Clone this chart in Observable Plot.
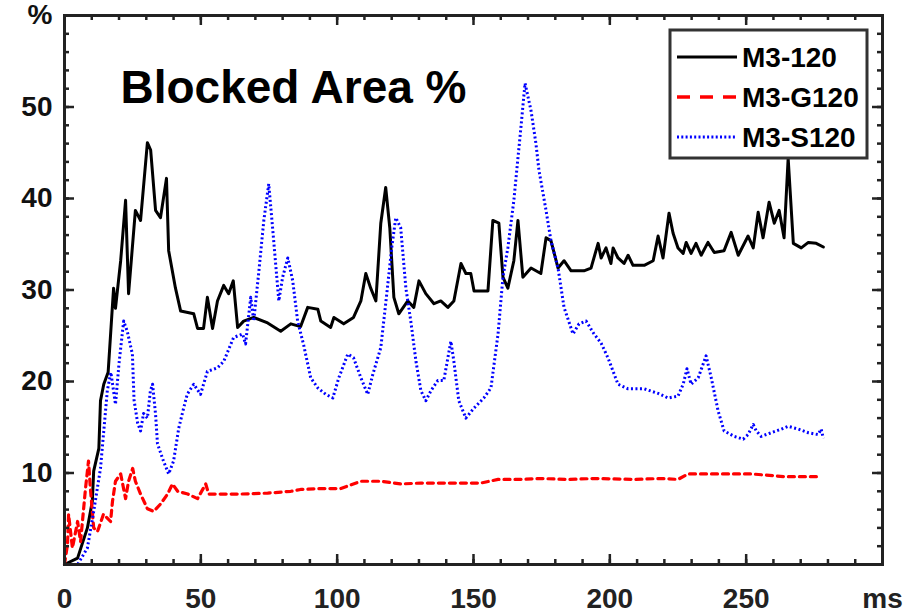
<!DOCTYPE html>
<html><head><meta charset="utf-8">
<script src="https://cdn.jsdelivr.net/npm/d3@7"></script>
<script src="https://cdn.jsdelivr.net/npm/@observablehq/plot@0.6"></script>
<style>body{margin:0;background:#fff;} svg{display:block}</style>
</head><body><div id="chart"></div>
<script>
const seriesNames = ["M3-120", "M3-G120", "M3-S120"];
const title = "Blocked Area %";

const m3_120_t = [0,4.8,8.4,10.2,10.7,12.6,13.2,14.4,16,18,18.7,20.6,22.4,23.5,26,27.9,30.4,31.6,33.4,35.2,37.4,38.2,40.7,42.6,47.4,48.8,51,52.4,54.3,56.1,58.4,60.2,61.9,63.5,65.7,69.4,74.5,79.3,83,86.6,89.2,92.9,94,97.6,98.8,102.4,106,108.7,110.5,112.3,114.2,116,117.8,119.3,120.8,122.6,125.9,128.1,130,132.5,135.5,138,140.6,142.8,145.4,147.2,149,150.2,155.3,157.1,159.3,160.8,162.6,164.8,166.3,168.1,171.1,174.7,176.6,178.4,181,183.2,185.8,190.5,193.1,195.7,196.8,198.6,200.4,201.2,203,205.2,206.7,208.5,212.6,215.9,217.7,219.5,221.7,223.2,225,226.9,228,229.8,231.6,233.5,236,238.3,241.9,244.5,247.1,250.7,252.6,254.4,256.2,258.4,260.3,262.1,263.9,265.4,267.3,270.2,272.8,275.7,278.3];
const m3_120_v = [0,0.7,4,6.9,10.2,12.7,17.9,19.7,21,30.2,28,33.2,39.8,29.6,38.7,37.6,46.1,45.3,38.7,37.9,42.2,34.3,30.2,27.7,27.4,25.8,25.8,29.2,25.8,28.8,30.5,29.6,31,25.9,26.6,27,26.4,25.5,26.3,26,28.1,27.9,26.6,25.9,27,26.3,27,28.8,31.8,30.2,28.8,37.3,41.2,36.8,29.2,27.4,28.8,28.1,31,29.6,28.5,28.8,28.1,28.8,32.9,31.8,31.8,29.9,29.9,37.6,37.3,31.4,30.2,33.2,37.6,31.4,32.4,31.8,35.7,35.4,32.4,33.2,32.1,32.1,32.4,35.1,33.5,34.6,32.9,34.6,33.5,32.9,33.8,32.7,32.7,33.2,35.9,33.5,38.4,36.2,34.6,34,35.2,34,35.1,33.8,35.2,34.1,34.3,36.3,33.8,35.9,34.6,38.5,35.7,39.6,37.3,38.7,35.7,44.4,35.1,34.6,35.2,35.1,34.7];

const m3_g120_t = [0,1.1,1.5,2.9,4.8,5.9,7.7,8.8,9.5,10.7,12.1,14.3,16.9,17.6,18.7,20.6,22.4,23.5,25,26,27.9,30.4,32.7,35.2,37.8,39.6,41.5,45.2,48.8,51.8,52.9,57.3,64.6,74.5,83,86.6,94,101.3,108.7,116,123.3,130.7,138,145.4,152.7,159,167.4,174.7,184.6,194.2,208.9,218.8,225,228.7,239.7,251.8,264,277.5];
const m3_g120_v = [0,2.2,5.5,1.8,4.7,2.5,8.3,11.3,8.3,4,3.6,5.5,4.7,6.9,9.1,9.9,7.2,9.1,10.5,9.1,7.7,6.1,5.8,6.6,7.7,8.8,8,7.7,7.2,8.8,7.7,7.7,7.7,7.8,8,8.2,8.3,8.3,9.1,9.1,8.8,8.9,8.9,8.9,8.9,9.3,9.3,9.4,9.3,9.4,9.3,9.4,9.3,9.9,9.9,9.9,9.6,9.6];

const m3_s120_t = [0,4.8,8.4,10.7,13.2,15.7,17,18.7,20,21.7,23,24.9,25.5,26.8,27.9,29,30.4,31.5,32.3,33.4,34.1,36.3,38.2,40,41.9,43.7,45,47.4,49.9,52.4,56.1,58.4,62,65.3,66.4,68.3,69.4,71.2,73.1,74.9,76.4,78.6,80,81.9,83.7,85.5,87.7,90.3,92.9,95.8,98.4,100.6,103.9,106,108.7,111.2,113.1,116,118.2,120,121.5,123.3,125.2,127,128.9,130.7,132.5,134.4,136.9,139.1,141.7,142.8,144.6,147.2,150.2,153.8,156.4,159,160.8,162.6,164.8,167.4,168.9,171.1,172.9,174,176.6,178.4,181,183.2,186.5,188.7,191.3,194.2,196.8,199.3,203,206.7,212.6,217.7,221.4,225,226.9,228.3,229.8,232.4,235.3,237.2,239.7,241.9,245.6,248.9,250.7,252.6,253.7,255.5,259.2,262.9,265.4,269.1,272.8,276.4,277.5,278.3];
const m3_s120_v = [0,0,1.8,5.8,10.5,19,21,17.5,22,26.6,25.5,23,18,15.5,14.6,16.5,16,19,19.7,16.4,13.2,11.3,9.9,11.3,14.9,17.1,18.6,19.7,18.6,21.1,21.5,22.2,24.8,25.2,24.1,29.2,26.6,31.8,37.6,41.6,36.5,28.8,31.4,33.5,31,26.6,24,20.4,19.3,18.6,18.2,20.4,23,22.6,20.4,18.6,20.8,23.7,29.6,34.6,37.9,36.8,30.2,26.6,22.2,19,17.9,19,20.1,20.1,24.4,22.2,17.9,16,17.1,18.2,19.3,25.2,31.4,34.6,39.8,47.8,52.6,49.6,46,43.1,38.7,35.4,32.4,28.1,25.2,26.3,26.6,25.2,24.2,22.6,19.7,19.2,19.2,18.7,18.2,18.4,19.7,21.4,19.7,20.4,22.8,20.4,16.8,14.6,14,13.7,14.2,15.3,14.6,14,14.4,14.8,15.1,14.8,14.4,14.2,14.8,13.8];

const xTicks = [0, 50, 100, 150, 200, 250, 300];
const xTickLabels = ["0", "50", "100", "150", "200", "250", "ms"];
const yTicks = [10, 20, 30, 40, 50, 60];
const yTickLabels = ["10", "20", "30", "40", "50", "%"];

const toRows = (ts, vs, s) => ts.map((t, i) => ({t, v: vs[i], s}));
const black = toRows(m3_120_t, m3_120_v, seriesNames[0]);
const red = toRows(m3_g120_t, m3_g120_v, seriesNames[1]);
const blue = toRows(m3_s120_t, m3_s120_v, seriesNames[2]);

const W = 908, H = 615, mt = 15, mb = 51, ml = 64, mr = 26;
const innerH = H - mt - mb, innerW = W - ml - mr;
const xMinor = d3.range(0, 301, 10), yMinor = d3.range(0, 61, 2);
const font = "'Liberation Sans', Arial, Helvetica, sans-serif";
const axisColor = "#222";

const chart = Plot.plot({
  width: W, height: H,
  marginTop: mt, marginBottom: mb, marginLeft: ml, marginRight: mr,
  x: {domain: [0, 300]},
  y: {domain: [0, 60]},
  style: {fontFamily: font, background: "#fff", color: axisColor},
  marks: [
    Plot.line(black, {x: "t", y: "v", stroke: "#000", strokeWidth: 3, strokeLinejoin: "round"}),
    Plot.line(red, {x: "t", y: "v", stroke: "#ff0000", strokeWidth: 3.2, strokeDasharray: "6,5"}),
    Plot.line(blue, {x: "t", y: "v", stroke: "#0000ff", strokeWidth: 3, strokeDasharray: "2,2.5", strokeLinecap: "butt"}),
    // inward ticks on all four sides
    Plot.tickX(xMinor, {x: d => d, insetTop: innerH - 5, stroke: axisColor, strokeWidth: 2.5}),
    Plot.tickX(xMinor, {x: d => d, insetBottom: innerH - 5, stroke: axisColor, strokeWidth: 2.5}),
    Plot.tickX(xTicks, {x: d => d, insetTop: innerH - 10, stroke: axisColor, strokeWidth: 2.5}),
    Plot.tickX(xTicks, {x: d => d, insetBottom: innerH - 10, stroke: axisColor, strokeWidth: 2.5}),
    Plot.tickY(yMinor, {y: d => d, insetRight: innerW - 5, stroke: axisColor, strokeWidth: 2.5}),
    Plot.tickY(yMinor, {y: d => d, insetLeft: innerW - 5, stroke: axisColor, strokeWidth: 2.5}),
    Plot.tickY(yTicks, {y: d => d, insetRight: innerW - 10, stroke: axisColor, strokeWidth: 2.5}),
    Plot.tickY(yTicks, {y: d => d, insetLeft: innerW - 10, stroke: axisColor, strokeWidth: 2.5}),
    Plot.axisX({ticks: xTicks, tickSize: 0, tickPadding: 24, tickFormat: d => xTickLabels[xTicks.indexOf(d)],
      fontSize: 28, fontWeight: "bold", label: null, fill: axisColor}),
    Plot.axisY({ticks: yTicks, tickSize: 0, tickPadding: 12, tickFormat: d => yTickLabels[yTicks.indexOf(d)],
      fontSize: 28, fontWeight: "bold", label: null, fill: "#111"}),
    Plot.frame({stroke: axisColor, strokeWidth: 3}),
    Plot.text([title], {frameAnchor: "top-left", dx: 56, dy: 55, lineAnchor: "top", textAnchor: "start",
      fontSize: 46, fontWeight: "bold", fill: "#000"})
  ]
});
document.getElementById("chart").appendChild(chart);

// legend box
const svg = d3.select(chart);
const lg = svg.append("g").attr("font-family", font).attr("text-anchor", "start");
lg.append("rect").attr("x", 670).attr("y", 30).attr("width", 197).attr("height", 128)
  .attr("fill", "#fff").attr("stroke", "#333").attr("stroke-width", 3);
const legendStyles = [
  {stroke: "#000", dash: null, w: 3},
  {stroke: "#ff0000", dash: "13,10", w: 3.5},
  {stroke: "#0000ff", dash: "2,2.3", w: 3}
];
const legendY = [57, 97, 137];
seriesNames.forEach((name, i) => {
  const st = legendStyles[i];
  const ln = lg.append("line").attr("x1", 677).attr("x2", 737).attr("y1", legendY[i]).attr("y2", legendY[i])
    .attr("stroke", st.stroke).attr("stroke-width", st.w);
  if (st.dash) ln.attr("stroke-dasharray", st.dash);
  lg.append("text").attr("x", 742).attr("y", legendY[i]).attr("dy", "0.36em").attr("text-anchor", "start")
    .attr("font-size", 28).attr("font-weight", "bold").attr("fill", "#000").text(name);
});
</script>
</body></html>
